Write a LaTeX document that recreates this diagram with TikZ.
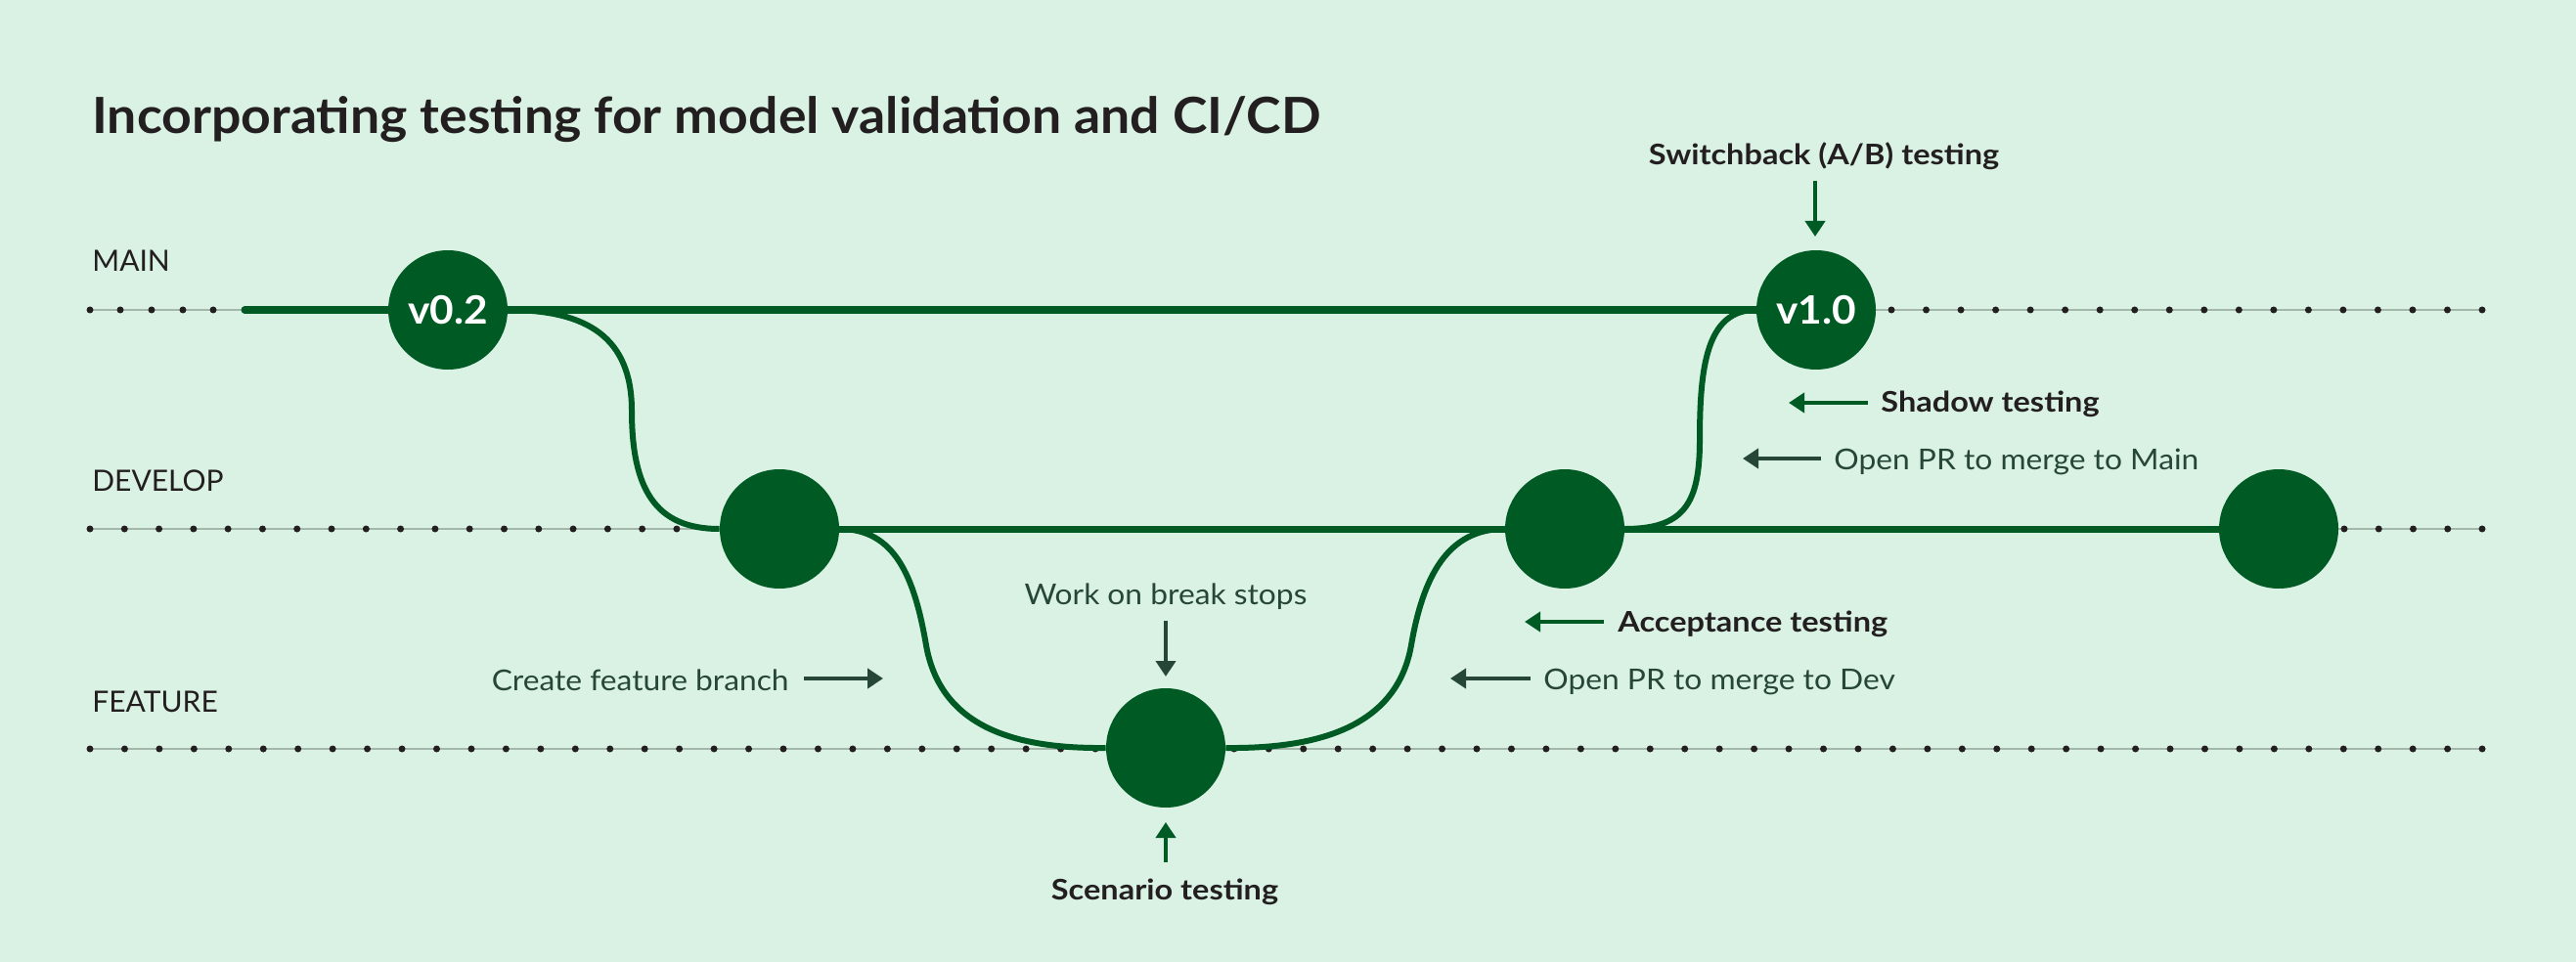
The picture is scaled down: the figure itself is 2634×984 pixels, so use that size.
\documentclass[tikz,border=0pt]{standalone}
\usepackage{fontspec}
\setmainfont{Lato}
\newfontfamily\titlefont{Lato}[FakeStretch=1.05]
\newfontfamily\notefont{Lato}[FakeStretch=1.08]
\newfontfamily\keyfont{Lato}[FakeStretch=1.12]
\newfontfamily\commitfont{Lato}[FakeStretch=1.06]
\usetikzlibrary{arrows.meta}
\definecolor{bg}{HTML}{DAF2E4}
\definecolor{dg}{HTML}{005A24}
\definecolor{ink}{HTML}{231F20}
\definecolor{soft}{HTML}{264637}
\definecolor{rail}{HTML}{A3B8AB}
\begin{document}
\begin{tikzpicture}[x=0.5pt,y=-0.5pt,
 commit/.style={circle,fill=dg,minimum size=61pt,inner sep=0pt,text=white,font=\commitfont\fontsize{20}{20}\selectfont\bfseries},
 branch/.style={line width=3.5pt,draw=dg,line cap=round},
 bendline/.style={line width=3pt,draw=dg},
 railline/.style={draw=rail,line width=1pt},
 lane/.style={anchor=base west,text=ink,font=\fontsize{15}{15}\selectfont,inner sep=0pt},
 note/.style={text=soft,font=\notefont\fontsize{14.7}{15}\selectfont,inner sep=0pt},
 keynote/.style={text=ink,font=\keyfont\fontsize{14.5}{15}\selectfont\bfseries,inner sep=0pt},
 arrg/.style={draw=dg,line width=2pt,-{Triangle[length=8pt,width=10pt]}},
 arrs/.style={draw=soft,line width=2pt,-{Triangle[length=8pt,width=10pt]}},
]
\useasboundingbox[fill=bg] (0,0) rectangle (2634,984);

% title and lane names
\node[anchor=base west,inner sep=0pt,text=ink,font=\titlefont\fontsize{25.5}{26}\selectfont\bfseries] (title) at (94,137) {Incorporating testing for model validation and CI/CD};
\node[lane] (lmain) at (94,278) {MAIN};
\node[lane] (ldev) at (94,502) {DEVELOP};
\node[lane] (lfeat) at (94,728) {FEATURE};

% rails
\coordinate (mainstart) at (250,317);
\coordinate (mainend) at (2538,317);
\coordinate (devstart) at (92,541);
\coordinate (devend) at (2538,541);
\coordinate (featstart) at (92,766);
\coordinate (featend) at (2538,766);
\draw[railline] (92,317) -- (mainstart);
\draw[railline] (1857,317) -- (mainend);
\draw[railline] (devstart) -- (797,541);
\draw[railline] (2330,541) -- (devend);
\draw[railline] (featstart) -- (featend);
\foreach \x in {92,123,155,187,218} \fill[ink] (\x,317) circle[radius=1.75pt];
\foreach \i in {0,...,17} \fill[ink] ({1934+\i*35.53},317) circle[radius=1.75pt];
\foreach \i in {0,...,17} \fill[ink] ({92+\i*35.29},541) circle[radius=1.75pt];
\foreach \i in {0,...,4} \fill[ink] ({2397+\i*35.25},541) circle[radius=1.75pt];
\foreach \i in {0,...,69} \fill[ink] ({92+\i*35.45},766) circle[radius=1.75pt];

% commits
\coordinate (cv02) at (458,317);
\coordinate (cv10) at (1857,317);
\coordinate (cd1) at (797,541);
\coordinate (cd2) at (1600,541);
\coordinate (cd3) at (2330,541);
\coordinate (cf1) at (1192,765);
\draw[branch] (mainstart) -- (cv10);
\draw[branch] (cd1) -- (cd3);
\node[commit] (v02) at (cv02) {v0.2};
\node[commit] (v10) at (cv10) {v1.0};
\node[commit] (d1) at (cd1) {};
\node[commit] (d2) at (cd2) {};
\node[commit] (d3) at (cd3) {};
\node[commit] (f1) at (cf1) {};

% branch curves
\draw[bendline] (v02.east) .. controls (600,317) and (646,345) .. (646,420) .. controls (646,500) and (670,541) .. (d1.west);
\draw[bendline] (d1.east) .. controls (915,541) and (935,590) .. (947,660) .. controls (962,745) and (1040,766) .. (f1.west);
\draw[bendline] (f1.east) .. controls (1345,766) and (1428,745) .. (1443,660) .. controls (1455,590) and (1480,541) .. (d2.west);
\draw[bendline] (d2.east) .. controls (1722,541) and (1738,515) .. (1738,450) .. controls (1738,375) and (1745,317) .. (v10.west);

% annotations
\node[keynote,anchor=base] (lswitch) at (1865,169) {Switchback (A/B) testing};
\coordinate (aswT) at (1856,185); \coordinate (aswH) at (1856,242);
\draw[arrg] (aswT) -- (aswH);

\node[keynote,anchor=base west] (lshadow) at (1923,421) {Shadow testing};
\coordinate (ashT) at (1910,412); \coordinate (ashH) at (1829,412);
\draw[arrg] (ashT) -- (ashH);

\node[note,anchor=base west] (lprmain) at (1875,480) {Open PR to merge to Main};
\coordinate (apmT) at (1862,469); \coordinate (apmH) at (1782,469);
\draw[arrs] (apmT) -- (apmH);

\node[keynote,anchor=base west] (laccept) at (1654,646) {Acceptance testing};
\coordinate (aacT) at (1640,636); \coordinate (aacH) at (1559,636);
\draw[arrg] (aacT) -- (aacH);

\node[note,anchor=base west] (lprdev) at (1578,705) {Open PR to merge to Dev};
\coordinate (apdT) at (1565,694); \coordinate (apdH) at (1483,694);
\draw[arrs] (apdT) -- (apdH);

\node[note,anchor=base east] (lcreate) at (807,706) {Create feature branch};
\coordinate (acrT) at (822,694); \coordinate (acrH) at (903,694);
\draw[arrs] (acrT) -- (acrH);

\node[note,anchor=base] (lwork) at (1192,618) {Work on break stops};
\coordinate (awkT) at (1192,635); \coordinate (awkH) at (1192,692);
\draw[arrs] (awkT) -- (awkH);

\node[keynote,anchor=base] (lscen) at (1191,920) {Scenario testing};
\coordinate (ascT) at (1192,882); \coordinate (ascH) at (1192,841);
\draw[arrg] (ascT) -- (ascH);
\end{tikzpicture}
\end{document}
